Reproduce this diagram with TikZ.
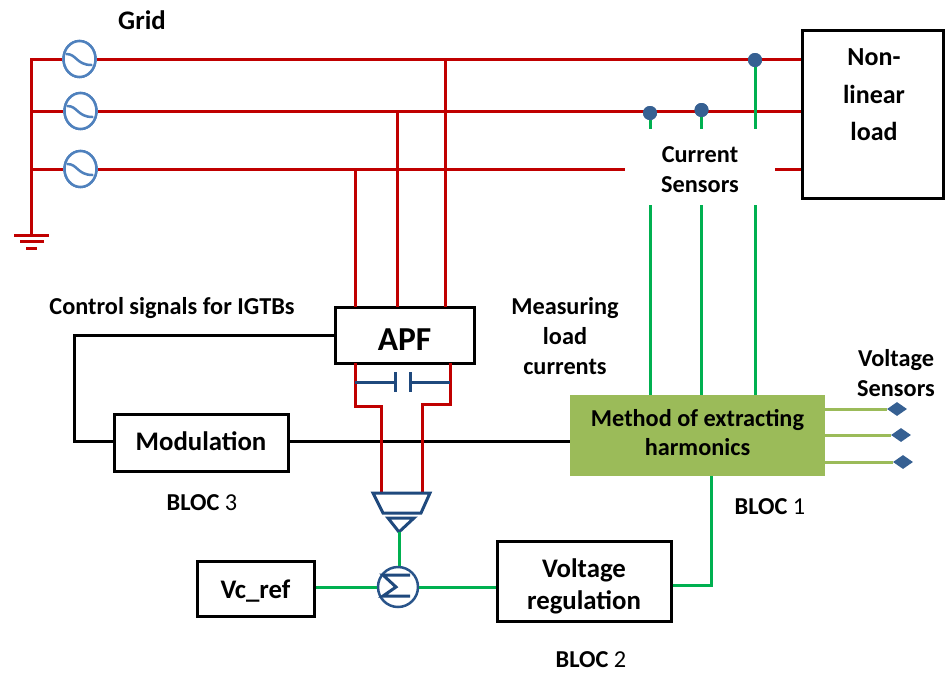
\documentclass[tikz,border=0pt]{standalone}
\usepackage{fontspec}
\setmainfont{Carlito}
\usetikzlibrary{shapes.geometric,calc}
\definecolor{redl}{RGB}{192,0,0}
\definecolor{greenl}{RGB}{0,176,80}
\definecolor{olivel}{RGB}{155,187,89}
\definecolor{bluel}{RGB}{31,73,125}
\definecolor{srcl}{RGB}{79,129,189}
\definecolor{dotl}{RGB}{54,96,146}
\newcommand{\lab}{\bfseries\fontsize{24.3}{30}\selectfont}
\newcommand{\labb}{\bfseries\fontsize{26.8}{32}\selectfont}
\newcommand{\labc}{\bfseries\fontsize{26}{32}\selectfont}
\tikzset{
  redw/.style={draw=redl,line width=3pt},
  greenw/.style={draw=greenl,line width=3pt},
  olivew/.style={draw=olivel,line width=3pt},
  blackw/.style={draw=black,line width=3pt},
  bluew/.style={draw=bluel,line width=3pt,line join=miter},
  boxn/.style={draw=black,line width=3pt,fill=white,inner sep=0pt},
  lbl/.style={inner sep=0pt,align=center,font=\lab},
  lblb/.style={inner sep=0pt,align=center,font=\labb},
  src/.style={ellipse,draw=srcl,line width=2.5pt,fill=white,minimum width=32pt,minimum height=36pt,inner sep=0pt},
  sensdot/.style={circle,fill=dotl,minimum size=14pt,inner sep=0pt},
  vsens/.style={diamond,fill=dotl,minimum width=20pt,minimum height=14pt,inner sep=0pt}
}
\newcommand{\wave}[1]{\draw[srcl,line width=2.5pt,line cap=round] ($(#1)+(-13,-5)$) .. controls ($(#1)+(-3,-5)$) and ($(#1)+(-3,6)$) .. ($(#1)+(12,6)$);}
\begin{document}
\begin{tikzpicture}[x=1pt,y=-1pt]
\useasboundingbox (0,0) rectangle (946,673);
% coordinates
\coordinate (g1) at (31,59);
\coordinate (g2) at (31,111);
\coordinate (g3) at (31,169);
\coordinate (g4) at (31,235);
\coordinate (gl1) at (14,235); \coordinate (gr1) at (49,235);
\coordinate (gl2) at (20,241); \coordinate (gr2) at (44,241);
\coordinate (gl3) at (26,248); \coordinate (gr3) at (37,248);
\node[boxn,minimum width=141pt,minimum height=168pt] (load) at (872.5,114) {};
\coordinate (la) at (load.west |- 0,59);
\coordinate (lb) at (load.west |- 0,111);
\coordinate (lc) at (load.west |- 0,169);
\node[boxn,minimum width=139pt,minimum height=56pt] (apf) at (404.5,335) {};
\node[boxn,minimum width=174pt,minimum height=57pt] (mod) at (201,442.5) {};
\node[boxn,minimum width=117pt,minimum height=55pt] (vc) at (255.5,588.5) {};
\node[boxn,minimum width=174pt,minimum height=80pt] (vr) at (584,581) {};
\node[fill=olivel,minimum width=255pt,minimum height=81pt,inner sep=0pt] (ext) at (697.5,435.5) {};
\node[lblb] at (201,441) {Modulation};
\node[lblb] at (255.5,591) {Vc\_ref};
\node[lblb] at (584,586) {Voltage\\regulation};
\node[lbl] at (697.5,432.5) {Method of extracting\\[-1pt]harmonics};
\node[font=\bfseries\fontsize{33.5}{34}\selectfont,inner sep=0pt] at (404.5,340) {APF};
% red buses
\node[src] (s1) at (79.5,59) {};
\node[src] (s2) at (80.5,111) {};
\node[src] (s3) at (80.5,169) {};
\draw[redw] (s1) -- (g1) -- (g4);
\draw[redw] (g2) -- (s2);
\draw[redw] (g3) -- (s3);
\draw[redw] (s1) -- (la);
\draw[redw] (s2) -- (lb);
\draw[redw] (s3) -- (lc);
\draw[redw] (gl1) -- (gr1);
\draw[redw] (gl2) -- (gr2);
\draw[redw] (gl3) -- (gr3);
\node[src] at (s1) {}; \node[src] at (s2) {}; \node[src] at (s3) {};
\wave{s1}\wave{s2}\wave{s3}
% APF feeds
\draw[redw] (445,59) -- (445,307);
\draw[redw] (397,111) -- (397,307);
\draw[redw] (355,169) -- (355,307);
% current sensors
\node[sensdot] (d3) at (755,60) {};
\node[sensdot] (d2) at (701.5,110) {};
\node[sensdot] (d1) at (650,113) {};
\coordinate (e1) at (650,395); \coordinate (e2) at (701.5,395); \coordinate (e3) at (755,395);
\draw[greenw] (d1) -- (e1);
\draw[greenw] (d2) -- (e2);
\draw[greenw] (d3) -- (e3);
\node[sensdot] at (d3) {}; \node[sensdot] at (d2) {}; \node[sensdot] at (d1) {};
\node[fill=white,minimum width=150pt,minimum height=76pt,inner sep=0pt] (cs) at (700,167) {};
\node[lbl] at (700,170) {Current\\Sensors};
% control
\coordinate (ctl) at (74,335);
\coordinate (ctb) at (74,441);
\draw[blackw] (apf.west) -- (ctl) -- (ctb) -- (mod.west |- ctb);
\draw[blackw] (mod.east |- 0,441) -- (ext.west |- 0,441);
% filter to comparator
\coordinate (tpl) at (381,493); \coordinate (tpr) at (422,493);
\draw[redw] (355,363) -- (355,406) -- (381,406) -- (tpl);
\draw[redw] (450,363) -- (450,404) -- (422,404) -- (tpr);
% capacitor
\draw[bluew] (355,382) -- (395,382) (395,372) -- (395,392) (410,372) -- (410,392) (410,382) -- (450,382);
% converter & amp
\draw[bluew] (373,493) -- (430,493) -- (421,513) -- (383,513) -- cycle;
\draw[bluew] (388,518) -- (414,518) -- (399,532) -- cycle;
\coordinate (amp) at (399,532);
\node[circle,draw=bluel!80!srcl,line width=2.5pt,fill=white,minimum size=40pt,inner sep=0pt] (sum) at (398,587) {};
\draw[bluew] (410,575) -- (383,575) -- (396,587) -- (383,596) -- (410,596);
\draw[greenw] (amp) -- (sum.north -| amp);
\draw[greenw] (vc.east |- sum) -- (sum.west);
\draw[greenw] (sum.east) -- (vr.west |- sum);
\coordinate (vrb) at (711,585);
\draw[greenw] (vr.east |- vrb) -- (vrb) -- (vrb |- ext.south);
% voltage sensors
\node[vsens] (v1) at (897,409) {};
\node[vsens] (v2) at (901,435) {};
\node[vsens] (v3) at (903,462) {};
\draw[olivew] (ext.east |- v1) -- (v1);
\draw[olivew] (ext.east |- v2) -- (v2);
\draw[olivew] (ext.east |- v3) -- (v3);
% labels
\node[inner sep=0pt,align=center,font=\labc] at (874,95) {Non-\\[5.5pt]linear\\[5.5pt]load};
\node[lblb] at (142,20) {Grid};
\node[lbl] at (172,308) {Control signals for IGTBs};
\node[lbl] at (565,336) {Measuring\\load\\currents};
\node[lbl] at (896,373) {Voltage\\Sensors};
\node[lbl] at (202,503) {BLOC \textmd{3}};
\node[lbl] at (770,507) {BLOC \textmd{1}};
\node[lbl] at (591,660) {BLOC \textmd{2}};
\end{tikzpicture}
\end{document}
